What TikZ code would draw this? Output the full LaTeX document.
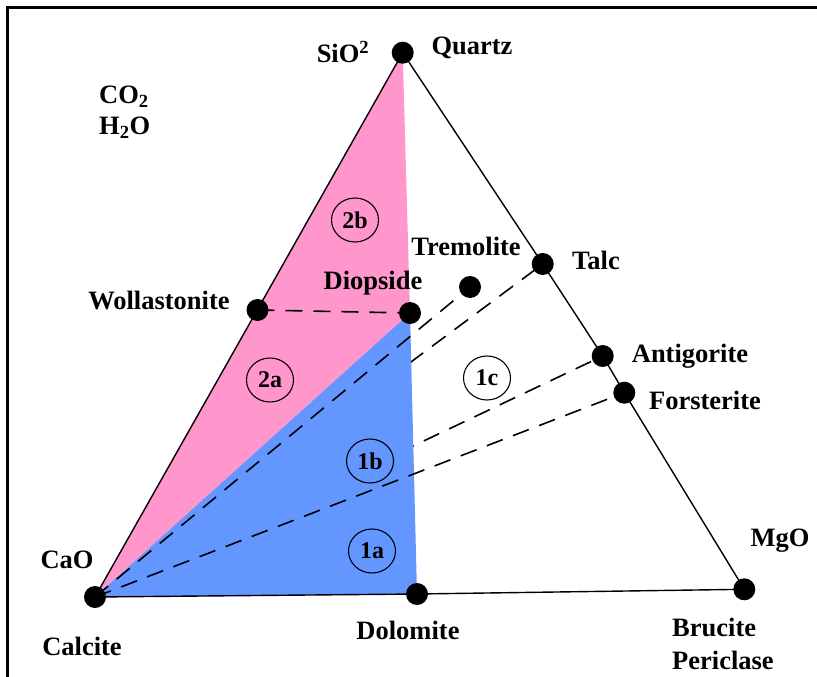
\documentclass[tikz,border=0pt]{standalone}
\usepackage{fontspec}
\setmainfont{Liberation Serif}
\usetikzlibrary{shapes.geometric}
\definecolor{zonepink}{RGB}{255,150,204}
\definecolor{zoneblue}{RGB}{100,150,255}

\begin{document}
\begin{tikzpicture}[x=1pt,y=-1pt,
  dot/.style={circle,fill=black,inner sep=0pt,minimum size=22pt},
  lbl/.style={font=\fontsize{26.5}{28}\selectfont\bfseries,inner sep=0pt},
  zone/.style={ellipse,draw,line width=1.1pt,minimum width=47pt,minimum height=44pt,
    inner sep=0pt,font=\fontsize{24}{26}\selectfont\bfseries},
  tie/.style={dash pattern=on 17pt off 11pt,line width=1.6pt},
  edge/.style={line width=1.4pt}]
  \useasboundingbox (0,0) rectangle (817,677);
  \draw[line width=3pt] (7,677) -- (7,8) -- (817,8);

  % phases
  \coordinate (qtz) at (402.7,52.7);
  \coordinate (cao) at (95,597);
  \coordinate (dol) at (417,594);
  \coordinate (mgo) at (744.3,589.3);
  \coordinate (wol) at (257.5,310);
  \coordinate (dio) at (410,313);
  \coordinate (tre) at (470,287);
  \coordinate (tlc) at (542.7,264);
  \coordinate (atg) at (602.7,356);
  \coordinate (fo) at (624.3,392.7);

  % tie lines hidden by the blue field
  \draw[tie] (cao) -- (tlc);
  \draw[tie] (cao) -- (atg);
  \fill[zonepink] (qtz) -- (cao) -- (dio) -- cycle;
  \fill[zoneblue] (cao) -- (dio) -- (dol) -- cycle;

  \draw[edge] (qtz) -- (cao);
  \draw[edge] (qtz) -- (tlc) -- (atg) -- (fo) -- (mgo);
  \draw[edge] (cao) -- (dol) -- (mgo);
  \draw[tie] (wol) -- (dio);
  \draw[tie] (cao) -- (tre);
  \draw[tie] (cao) -- (fo);

  \foreach \p in {qtz,cao,dol,mgo,wol,dio,tre,tlc,atg,fo}
    \node[dot] at (\p) {};

  % fields
  \node[zone] (z2b) at (355,220) {2b};
  \node[zone] (z2a) at (270,380) {2a};
  \node[zone] (z1b) at (370,461) {1b};
  \node[zone] (z1a) at (372,551) {1a};
  \node[zone] (z1c) at (487,378) {1c};

  % labels
  \node[lbl] (lsio) at (343,52) {SiO\textsuperscript{2}};
  \node[lbl] (lqtz) at (472,48) {Quartz};
  \node[lbl,anchor=west] (lco) at (99,97) {CO\textsubscript{2}};
  \node[lbl,anchor=west] (lh) at (99,128) {H\textsubscript{2}O};
  \node[lbl] (ltre) at (466,246) {Tremolite};
  \node[lbl] (ltlc) at (596,260) {Talc};
  \node[lbl] (ldio) at (373,283) {Diopside};
  \node[lbl] (lwol) at (159,301) {Wollastonite};
  \node[lbl] (latg) at (690,356) {Antigorite};
  \node[lbl] (lfo) at (705,400) {Forsterite};
  \node[lbl] (lcao) at (67,560) {CaO};
  \node[lbl] (lcal) at (82,646) {Calcite};
  \node[lbl] (ldol) at (408,630) {Dolomite};
  \node[lbl,anchor=west] (lbru) at (672,627) {Brucite};
  \node[lbl,anchor=west] (lper) at (672,660) {Periclase};
  \node[lbl] (lmgo) at (780,541) {MgO};
\end{tikzpicture}
\end{document}
